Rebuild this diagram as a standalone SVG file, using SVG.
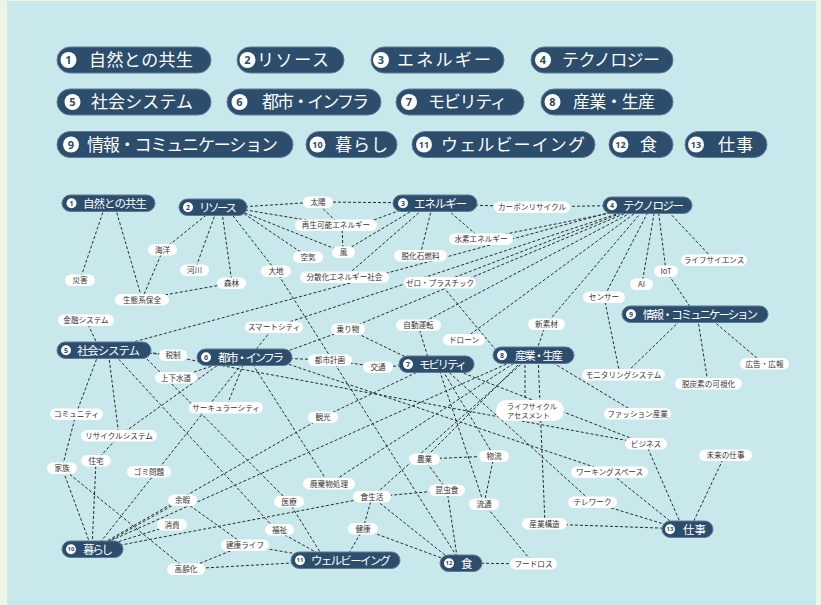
<svg xmlns="http://www.w3.org/2000/svg" width="821" height="605" viewBox="0 0 821 605">
<style>
.pill{fill:#2c4d6c;stroke:#5d7c98;stroke-width:1}
.num{fill:#fff}
.lt{font-family:"Noto Sans CJK JP","Noto Sans",sans-serif;font-size:17px;fill:#fff}
.ln{font-family:"Noto Sans","Liberation Sans",sans-serif;font-size:11px;font-weight:bold;fill:#2c4d6c;text-anchor:middle}
.ln2{font-family:"Noto Sans","Liberation Sans",sans-serif;font-size:9px;font-weight:bold;fill:#2c4d6c;text-anchor:middle}
.nt{font-family:"Noto Sans CJK JP","Noto Sans",sans-serif;font-size:11.5px;fill:#fff}
.nn{font-family:"Noto Sans","Liberation Sans",sans-serif;font-size:7px;font-weight:bold;fill:#2c4d6c;text-anchor:middle}
.nn2{font-family:"Noto Sans","Liberation Sans",sans-serif;font-size:6px;font-weight:bold;fill:#2c4d6c;text-anchor:middle}
.lb{fill:#fff}
.lbt{font-family:"Noto Sans CJK JP","Noto Sans",sans-serif;font-size:7.6px;fill:#333;text-anchor:middle}
.lbs{font-family:"Noto Sans CJK JP","Noto Sans",sans-serif;font-size:7.2px;fill:#333}
#edges line{stroke:#2b2b2b;stroke-width:1;stroke-dasharray:3 2;fill:none}
</style>
<rect width="821" height="605" fill="#eef5e5"/>
<rect x="7" y="1" width="809" height="604" fill="#c8e8ec"/>

<g id="legend">
<g id="lg1"><rect class="pill" x="57" y="47" width="154" height="26" rx="13"/><circle class="num" cx="68.5" cy="60" r="8"/><text class="ln" x="68.5" y="64">1</text><text class="lt" x="89" y="66" textLength="104">自然との共生</text></g>
<g id="lg2"><rect class="pill" x="237" y="47" width="107" height="26" rx="13"/><circle class="num" cx="247.5" cy="60" r="8"/><text class="ln" x="247.5" y="64">2</text><text class="lt" x="257" y="66" textLength="72">リソース</text></g>
<g id="lg3"><rect class="pill" x="371" y="47" width="133" height="26" rx="13"/><circle class="num" cx="381" cy="60" r="8"/><text class="ln" x="381" y="64">3</text><text class="lt" x="397" y="66" textLength="94">エネルギー</text></g>
<g id="lg4"><rect class="pill" x="531" y="47" width="142" height="26" rx="13"/><circle class="num" cx="543" cy="60" r="8"/><text class="ln" x="543" y="64">4</text><text class="lt" x="562" y="66" textLength="98">テクノロジー</text></g>
<g id="lg5"><rect class="pill" x="57" y="89" width="154" height="26" rx="13"/><circle class="num" cx="72.5" cy="102" r="8"/><text class="ln" x="72.5" y="106">5</text><text class="lt" x="91" y="108" textLength="102">社会システム</text></g>
<g id="lg6"><rect class="pill" x="227" y="89" width="154" height="26" rx="13"/><circle class="num" cx="239.5" cy="102" r="8"/><text class="ln" x="239.5" y="106">6</text><text class="lt" x="262" y="108" textLength="107">都市・インフラ</text></g>
<g id="lg7"><rect class="pill" x="396" y="89" width="128" height="26" rx="13"/><circle class="num" cx="409" cy="102" r="8"/><text class="ln" x="409" y="106">7</text><text class="lt" x="428" y="108" textLength="79">モビリティ</text></g>
<g id="lg8"><rect class="pill" x="541" y="89" width="132" height="26" rx="13"/><circle class="num" cx="552.5" cy="102" r="8"/><text class="ln" x="552.5" y="106">8</text><text class="lt" x="573" y="108" textLength="82">産業・生産</text></g>
<g id="lg9"><rect class="pill" x="57" y="131.5" width="236" height="26" rx="13"/><circle class="num" cx="71" cy="144.5" r="8"/><text class="ln" x="71" y="148.5">9</text><text class="lt" x="87" y="150.5" textLength="191">情報・コミュニケーション</text></g>
<g id="lg10"><rect class="pill" x="306" y="131.5" width="91" height="26" rx="13"/><circle class="num" cx="317.5" cy="144.5" r="8"/><text class="ln2" x="317.5" y="147.7">10</text><text class="lt" x="335" y="150.5" textLength="53">暮らし</text></g>
<g id="lg11"><rect class="pill" x="412" y="131.5" width="183" height="26" rx="13"/><circle class="num" cx="424" cy="144.5" r="8"/><text class="ln2" x="424" y="147.7">11</text><text class="lt" x="441" y="150.5" textLength="144">ウェルビーイング</text></g>
<g id="lg12"><rect class="pill" x="609" y="131.5" width="64" height="26" rx="13"/><circle class="num" cx="620.5" cy="144.5" r="8"/><text class="ln2" x="620.5" y="147.7">12</text><text class="lt" x="640" y="150.5">食</text></g>
<g id="lg13"><rect class="pill" x="685" y="131.5" width="82" height="26" rx="13"/><circle class="num" cx="696" cy="144.5" r="8"/><text class="ln2" x="696" y="147.7">13</text><text class="lt" x="718" y="150.5" textLength="35">仕事</text></g>
</g>

<g id="edges">
<line x1="106" y1="203" x2="80" y2="280"/>
<line x1="114" y1="203" x2="142" y2="299"/>
<line x1="210" y1="212" x2="163" y2="250"/>
<line x1="216" y1="212" x2="195" y2="270"/>
<line x1="222" y1="212" x2="232" y2="283"/>
<line x1="230" y1="212" x2="276" y2="271"/>
<line x1="240" y1="207" x2="318" y2="202"/>
<line x1="240" y1="209" x2="336" y2="225"/>
<line x1="240" y1="211" x2="308" y2="257"/>
<line x1="240" y1="211" x2="343" y2="252"/>
<line x1="163" y1="250" x2="142" y2="299"/>
<line x1="232" y1="283" x2="142" y2="299"/>
<line x1="318" y1="202" x2="435" y2="203"/>
<line x1="316" y1="202" x2="340" y2="225"/>
<line x1="342" y1="225" x2="343" y2="252"/>
<line x1="360" y1="225" x2="420" y2="203"/>
<line x1="343" y1="252" x2="425" y2="203"/>
<line x1="433" y1="203" x2="420" y2="256"/>
<line x1="430" y1="203" x2="345" y2="277"/>
<line x1="440" y1="203" x2="481" y2="239"/>
<line x1="435" y1="204" x2="532" y2="207"/>
<line x1="532" y1="207" x2="647" y2="205"/>
<line x1="630" y1="207" x2="104" y2="350"/>
<line x1="635" y1="208" x2="481" y2="239"/>
<line x1="635" y1="208" x2="440" y2="283"/>
<line x1="635" y1="208" x2="274" y2="327"/>
<line x1="638" y1="208" x2="348" y2="329"/>
<line x1="640" y1="208" x2="418" y2="325"/>
<line x1="642" y1="208" x2="464" y2="339"/>
<line x1="645" y1="208" x2="546" y2="324"/>
<line x1="650" y1="208" x2="604" y2="297"/>
<line x1="655" y1="208" x2="642" y2="284"/>
<line x1="658" y1="208" x2="666" y2="271"/>
<line x1="665" y1="208" x2="714" y2="260"/>
<line x1="666" y1="271" x2="695" y2="314"/>
<line x1="687" y1="314" x2="624" y2="375"/>
<line x1="697" y1="314" x2="708" y2="383"/>
<line x1="705" y1="314" x2="764" y2="364"/>
<line x1="604" y1="297" x2="620" y2="375"/>
<line x1="440" y1="283" x2="500" y2="355"/>
<line x1="546" y1="324" x2="535" y2="355"/>
<line x1="525" y1="355" x2="525" y2="410"/>
<line x1="538" y1="355" x2="545" y2="524"/>
<line x1="540" y1="355" x2="638" y2="414"/>
<line x1="520" y1="358" x2="92" y2="549"/>
<line x1="525" y1="358" x2="424" y2="459"/>
<line x1="528" y1="358" x2="372" y2="497"/>
<line x1="522" y1="358" x2="329" y2="484"/>
<line x1="276" y1="271" x2="461" y2="563"/>
<line x1="86" y1="320" x2="100" y2="350"/>
<line x1="104" y1="350" x2="173" y2="355"/>
<line x1="100" y1="350" x2="76" y2="414"/>
<line x1="76" y1="414" x2="62" y2="468"/>
<line x1="108" y1="350" x2="119" y2="436"/>
<line x1="112" y1="352" x2="276" y2="530"/>
<line x1="140" y1="352" x2="289" y2="502"/>
<line x1="148" y1="352" x2="646" y2="444"/>
<line x1="274" y1="327" x2="250" y2="357"/>
<line x1="230" y1="360" x2="176" y2="378"/>
<line x1="245" y1="357" x2="330" y2="360"/>
<line x1="330" y1="360" x2="378" y2="367"/>
<line x1="378" y1="367" x2="436" y2="364"/>
<line x1="285" y1="352" x2="348" y2="329"/>
<line x1="348" y1="329" x2="420" y2="364"/>
<line x1="418" y1="325" x2="430" y2="364"/>
<line x1="430" y1="366" x2="323" y2="417"/>
<line x1="323" y1="417" x2="100" y2="545"/>
<line x1="440" y1="366" x2="494" y2="456"/>
<line x1="438" y1="366" x2="484" y2="504"/>
<line x1="442" y1="366" x2="592" y2="502"/>
<line x1="445" y1="366" x2="646" y2="444"/>
<line x1="245" y1="360" x2="226" y2="408"/>
<line x1="245" y1="360" x2="95" y2="549"/>
<line x1="225" y1="360" x2="119" y2="436"/>
<line x1="119" y1="436" x2="96" y2="461"/>
<line x1="250" y1="360" x2="329" y2="484"/>
<line x1="270" y1="358" x2="609" y2="472"/>
<line x1="92" y1="549" x2="62" y2="468"/>
<line x1="92" y1="549" x2="96" y2="461"/>
<line x1="95" y1="549" x2="182" y2="500"/>
<line x1="95" y1="549" x2="172" y2="525"/>
<line x1="100" y1="549" x2="372" y2="497"/>
<line x1="62" y1="468" x2="186" y2="569"/>
<line x1="182" y1="500" x2="245" y2="545"/>
<line x1="186" y1="569" x2="245" y2="545"/>
<line x1="186" y1="569" x2="345" y2="560"/>
<line x1="245" y1="545" x2="320" y2="558"/>
<line x1="289" y1="502" x2="325" y2="560"/>
<line x1="276" y1="530" x2="330" y2="560"/>
<line x1="363" y1="529" x2="345" y2="560"/>
<line x1="372" y1="497" x2="363" y2="529"/>
<line x1="372" y1="497" x2="455" y2="563"/>
<line x1="363" y1="529" x2="455" y2="563"/>
<line x1="447" y1="490" x2="372" y2="497"/>
<line x1="424" y1="459" x2="494" y2="456"/>
<line x1="424" y1="459" x2="447" y2="490"/>
<line x1="447" y1="490" x2="458" y2="563"/>
<line x1="494" y1="456" x2="484" y2="504"/>
<line x1="484" y1="504" x2="534" y2="564"/>
<line x1="461" y1="563" x2="534" y2="564"/>
<line x1="646" y1="444" x2="683" y2="529"/>
<line x1="725" y1="455" x2="690" y2="529"/>
<line x1="609" y1="472" x2="680" y2="529"/>
<line x1="592" y1="502" x2="680" y2="529"/>
<line x1="545" y1="524" x2="687" y2="529"/>
</g>

<g id="labels">
<g id="l-saigai"><rect class="lb" x="65" y="274.5" width="30" height="11.5" rx="5.75"/><text class="lbt" x="80" y="283">災害</text></g>
<g id="l-kaiyo"><rect class="lb" x="148" y="244" width="29" height="11.5" rx="5.75"/><text class="lbt" x="162.5" y="252.5">海洋</text></g>
<g id="l-kasen"><rect class="lb" x="180" y="264.5" width="29" height="11.5" rx="5.75"/><text class="lbt" x="194.5" y="273">河川</text></g>
<g id="l-shinrin"><rect class="lb" x="217" y="277.5" width="29" height="11.5" rx="5.75"/><text class="lbt" x="231.5" y="286">森林</text></g>
<g id="l-daichi"><rect class="lb" x="261" y="265.5" width="30" height="11.5" rx="5.75"/><text class="lbt" x="276" y="274">大地</text></g>
<g id="l-seitai"><rect class="lb" x="115" y="294" width="54" height="11.5" rx="5.75"/><text class="lbt" x="142" y="302.5">生態系保全</text></g>
<g id="l-taiyo"><rect class="lb" x="303" y="196.5" width="30" height="11.5" rx="5.75"/><text class="lbt" x="318" y="205">太陽</text></g>
<g id="l-saisei"><rect class="lb" x="295" y="219.5" width="82" height="11.5" rx="5.75"/><text class="lbt" x="336" y="228">再生可能エネルギー</text></g>
<g id="l-kuki"><rect class="lb" x="293" y="251.5" width="30" height="11.5" rx="5.75"/><text class="lbt" x="308" y="260">空気</text></g>
<g id="l-kaze"><rect class="lb" x="332" y="246.5" width="23" height="11.5" rx="5.75"/><text class="lbt" x="343.5" y="255">風</text></g>
<g id="l-datsuka"><rect class="lb" x="394" y="250" width="53" height="11.5" rx="5.75"/><text class="lbt" x="420.5" y="258.5">脱化石燃料</text></g>
<g id="l-bunsan"><rect class="lb" x="300" y="271.5" width="89" height="11.5" rx="5.75"/><text class="lbt" x="344.5" y="280">分散化エネルギー社会</text></g>
<g id="l-zero"><rect class="lb" x="404" y="277" width="72" height="11.5" rx="5.75"/><text class="lbt" x="440" y="285.5">ゼロ・プラスチック</text></g>
<g id="l-suiso"><rect class="lb" x="449" y="233.5" width="64" height="11.5" rx="5.75"/><text class="lbt" x="481" y="242">水素エネルギー</text></g>
<g id="l-carbon"><rect class="lb" x="494" y="201.5" width="76" height="11.5" rx="5.75"/><text class="lbt" x="532" y="210">カーボンリサイクル</text></g>
<g id="l-life"><rect class="lb" x="681" y="254.5" width="66" height="11.5" rx="5.75"/><text class="lbt" x="714" y="263">ライフサイエンス</text></g>
<g id="l-iot"><rect class="lb" x="654" y="265.5" width="24" height="11.5" rx="5.75"/><text class="lbt" x="666" y="274">IoT</text></g>
<g id="l-ai"><rect class="lb" x="630" y="278.5" width="23" height="11.5" rx="5.75"/><text class="lbt" x="641.5" y="287">AI</text></g>
<g id="l-sensor"><rect class="lb" x="583" y="291.5" width="42" height="11.5" rx="5.75"/><text class="lbt" x="604" y="300">センサー</text></g>
<g id="l-kinyu"><rect class="lb" x="58" y="314.5" width="56" height="11.5" rx="5.75"/><text class="lbt" x="86" y="323">金融システム</text></g>
<g id="l-smart"><rect class="lb" x="245" y="321.5" width="58" height="11.5" rx="5.75"/><text class="lbt" x="274" y="330">スマートシティ</text></g>
<g id="l-zeisei"><rect class="lb" x="159" y="349.5" width="28" height="11.5" rx="5.75"/><text class="lbt" x="173" y="358">税制</text></g>
<g id="l-jouge"><rect class="lb" x="155" y="372" width="42" height="11.5" rx="5.75"/><text class="lbt" x="176" y="380.5">上下水道</text></g>
<g id="l-circular"><rect class="lb" x="189" y="402" width="74" height="11.5" rx="5.75"/><text class="lbt" x="226" y="410.5">サーキュラーシティ</text></g>
<g id="l-community"><rect class="lb" x="50" y="408.5" width="53" height="11.5" rx="5.75"/><text class="lbt" x="76.5" y="417">コミュニティ</text></g>
<g id="l-norimono"><rect class="lb" x="331" y="323.5" width="34" height="11.5" rx="5.75"/><text class="lbt" x="348" y="332">乗り物</text></g>
<g id="l-jidou"><rect class="lb" x="396" y="319.5" width="45" height="11.5" rx="5.75"/><text class="lbt" x="418.5" y="328">自動運転</text></g>
<g id="l-drone"><rect class="lb" x="443" y="334" width="42" height="11.5" rx="5.75"/><text class="lbt" x="464" y="342.5">ドローン</text></g>
<g id="l-toshikeikaku"><rect class="lb" x="308" y="354.5" width="44" height="11.5" rx="5.75"/><text class="lbt" x="330" y="363">都市計画</text></g>
<g id="l-kotsu"><rect class="lb" x="363" y="361.5" width="30" height="11.5" rx="5.75"/><text class="lbt" x="378" y="370">交通</text></g>
<g id="l-kanko"><rect class="lb" x="308" y="411.5" width="30" height="11.5" rx="5.75"/><text class="lbt" x="323" y="420">観光</text></g>
<g id="l-shinsozai"><rect class="lb" x="528" y="318.5" width="37" height="11.5" rx="5.75"/><text class="lbt" x="546.5" y="327">新素材</text></g>
<g id="l-lca"><rect class="lb" x="496" y="400" width="68" height="21" rx="10.5"/><text class="lbs" x="507" y="408.5">ライフサイクル</text><text class="lbs" x="507" y="418">アセスメント</text></g>
<g id="l-monitoring"><rect class="lb" x="582" y="369" width="83" height="11.5" rx="5.75"/><text class="lbt" x="623.5" y="377.5">モニタリングシステム</text></g>
<g id="l-datsutanso"><rect class="lb" x="675" y="378" width="67" height="11.5" rx="5.75"/><text class="lbt" x="708.5" y="386.5">脱炭素の可視化</text></g>
<g id="l-kokoku"><rect class="lb" x="740" y="358" width="49" height="11.5" rx="5.75"/><text class="lbt" x="764.5" y="366.5">広告・広報</text></g>
<g id="l-fashion"><rect class="lb" x="604" y="408" width="67" height="11.5" rx="5.75"/><text class="lbt" x="637.5" y="416.5">ファッション産業</text></g>
<g id="l-recycle"><rect class="lb" x="81" y="430" width="76" height="11.5" rx="5.75"/><text class="lbt" x="119" y="438.5">リサイクルシステム</text></g>
<g id="l-jutaku"><rect class="lb" x="81" y="455" width="30" height="11.5" rx="5.75"/><text class="lbt" x="96" y="463.5">住宅</text></g>
<g id="l-kazoku"><rect class="lb" x="47" y="462.5" width="30" height="11.5" rx="5.75"/><text class="lbt" x="62" y="471">家族</text></g>
<g id="l-gomi"><rect class="lb" x="127" y="466" width="44" height="11.5" rx="5.75"/><text class="lbt" x="149" y="474.5">ゴミ問題</text></g>
<g id="l-yoka"><rect class="lb" x="168" y="494.5" width="29" height="11.5" rx="5.75"/><text class="lbt" x="182.5" y="503">余暇</text></g>
<g id="l-shohi"><rect class="lb" x="157" y="519" width="30" height="11.5" rx="5.75"/><text class="lbt" x="172" y="527.5">消費</text></g>
<g id="l-iryo"><rect class="lb" x="274" y="496" width="30" height="11.5" rx="5.75"/><text class="lbt" x="289" y="504.5">医療</text></g>
<g id="l-fukushi"><rect class="lb" x="265" y="524" width="29" height="11.5" rx="5.75"/><text class="lbt" x="279.5" y="532.5">福祉</text></g>
<g id="l-kenkolife"><rect class="lb" x="221" y="539.5" width="48" height="11.5" rx="5.75"/><text class="lbt" x="245" y="548">建康ライフ</text></g>
<g id="l-koreika"><rect class="lb" x="167" y="563.5" width="38" height="11.5" rx="5.75"/><text class="lbt" x="186" y="572">高齢化</text></g>
<g id="l-nogyo"><rect class="lb" x="409" y="453.5" width="31" height="11.5" rx="5.75"/><text class="lbt" x="424.5" y="462">農業</text></g>
<g id="l-butsuryu"><rect class="lb" x="479" y="450.5" width="30" height="11.5" rx="5.75"/><text class="lbt" x="494" y="459">物流</text></g>
<g id="l-haiki"><rect class="lb" x="303" y="478" width="52" height="11.5" rx="5.75"/><text class="lbt" x="329" y="486.5">廃棄物処理</text></g>
<g id="l-konchu"><rect class="lb" x="429" y="484.5" width="36" height="11.5" rx="5.75"/><text class="lbt" x="447" y="493">昆虫食</text></g>
<g id="l-shokuseikatsu"><rect class="lb" x="353" y="491" width="38" height="11.5" rx="5.75"/><text class="lbt" x="372" y="499.5">食生活</text></g>
<g id="l-ryutsu"><rect class="lb" x="469" y="498.5" width="30" height="11.5" rx="5.75"/><text class="lbt" x="484" y="507">流通</text></g>
<g id="l-kenko"><rect class="lb" x="348" y="523" width="30" height="11.5" rx="5.75"/><text class="lbt" x="363" y="531.5">健康</text></g>
<g id="l-sangyokozo"><rect class="lb" x="522" y="518" width="45" height="11.5" rx="5.75"/><text class="lbt" x="544.5" y="526.5">産業構造</text></g>
<g id="l-foodloss"><rect class="lb" x="510" y="558" width="47" height="11.5" rx="5.75"/><text class="lbt" x="533.5" y="566.5">フードロス</text></g>
<g id="l-business"><rect class="lb" x="625" y="438" width="42" height="11.5" rx="5.75"/><text class="lbt" x="646" y="446.5">ビジネス</text></g>
<g id="l-mirai"><rect class="lb" x="699" y="449.5" width="53" height="11.5" rx="5.75"/><text class="lbt" x="725.5" y="458">未来の仕事</text></g>
<g id="l-working"><rect class="lb" x="571" y="466.5" width="77" height="11.5" rx="5.75"/><text class="lbt" x="609.5" y="475">ワーキングスペース</text></g>
<g id="l-telework"><rect class="lb" x="568" y="496.5" width="49" height="11.5" rx="5.75"/><text class="lbt" x="592.5" y="505">テレワーク</text></g>
</g>

<g id="nodes">
<g id="n1"><rect class="pill" x="62" y="195" width="93" height="16.5" rx="8.25"/><circle class="num" cx="71.5" cy="203.2" r="5"/><text class="nn" x="71.5" y="205.7">1</text><text class="nt" x="83" y="207.5" textLength="64">自然との共生</text></g>
<g id="n2"><rect class="pill" x="179" y="199" width="68" height="16.5" rx="8.25"/><circle class="num" cx="188" cy="207.2" r="5"/><text class="nn" x="188" y="209.7">2</text><text class="nt" x="199" y="211.5" textLength="38">リソース</text></g>
<g id="n3"><rect class="pill" x="393" y="195" width="84" height="16.5" rx="8.25"/><circle class="num" cx="403" cy="203.2" r="5"/><text class="nn" x="403" y="205.7">3</text><text class="nt" x="414" y="207.5" textLength="53">エネルギー</text></g>
<g id="n4"><rect class="pill" x="603" y="197" width="89" height="16.5" rx="8.25"/><circle class="num" cx="612" cy="205.2" r="5"/><text class="nn" x="612" y="207.7">4</text><text class="nt" x="623" y="209.5" textLength="61">テクノロジー</text></g>
<g id="n5"><rect class="pill" x="57" y="342" width="94" height="16.5" rx="8.25"/><circle class="num" cx="66" cy="350.2" r="5"/><text class="nn" x="66" y="352.7">5</text><text class="nt" x="77" y="354.5" textLength="63">社会システム</text></g>
<g id="n6"><rect class="pill" x="197" y="349" width="95" height="16.5" rx="8.25"/><circle class="num" cx="206" cy="357.2" r="5"/><text class="nn" x="206" y="359.7">6</text><text class="nt" x="218" y="361.5" textLength="66">都市・インフラ</text></g>
<g id="n7"><rect class="pill" x="399" y="356" width="75" height="16.5" rx="8.25"/><circle class="num" cx="408" cy="364.2" r="5"/><text class="nn" x="408" y="366.7">7</text><text class="nt" x="419" y="368.5" textLength="48">モビリティ</text></g>
<g id="n8"><rect class="pill" x="493" y="347" width="81" height="16.5" rx="8.25"/><circle class="num" cx="502" cy="355.2" r="5"/><text class="nn" x="502" y="357.7">8</text><text class="nt" x="515" y="359.5" textLength="48">産業・生産</text></g>
<g id="n9"><rect class="pill" x="622" y="306" width="146" height="16.5" rx="8.25"/><circle class="num" cx="631" cy="314.2" r="5"/><text class="nn" x="631" y="316.7">9</text><text class="nt" x="643" y="318.5" textLength="115">情報・コミュニケーション</text></g>
<g id="n10"><rect class="pill" x="62" y="541" width="61" height="16.5" rx="8.25"/><circle class="num" cx="71" cy="549.2" r="5"/><text class="nn2" x="71" y="551.3">10</text><text class="nt" x="83" y="553.5" textLength="30">暮らし</text></g>
<g id="n11"><rect class="pill" x="291" y="552" width="109" height="16.5" rx="8.25"/><circle class="num" cx="300" cy="560.2" r="5"/><text class="nn2" x="300" y="562.3">11</text><text class="nt" x="311" y="564.5" textLength="80">ウェルビーイング</text></g>
<g id="n12"><rect class="pill" x="440" y="555" width="42" height="16.5" rx="8.25"/><circle class="num" cx="449" cy="563.2" r="5"/><text class="nn2" x="449" y="565.3">12</text><text class="nt" x="461" y="567.5">食</text></g>
<g id="n13"><rect class="pill" x="662" y="521" width="51" height="16.5" rx="8.25"/><circle class="num" cx="670" cy="529.2" r="5"/><text class="nn2" x="670" y="531.3">13</text><text class="nt" x="683" y="533.5" textLength="23">仕事</text></g>
</g>
</svg>
